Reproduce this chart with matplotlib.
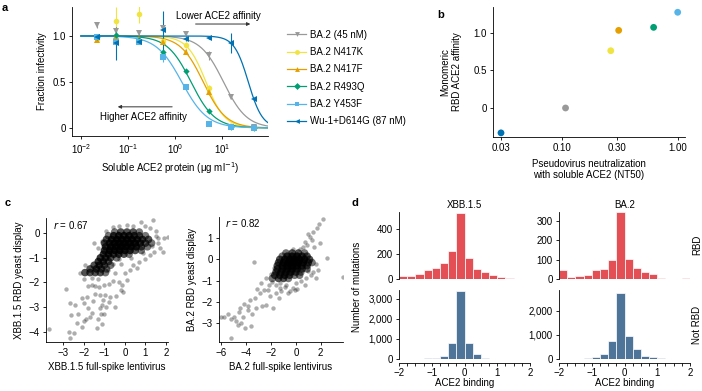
import matplotlib
matplotlib.use('Agg')
import matplotlib.pyplot as plt
import numpy as np
from matplotlib.lines import Line2D
from matplotlib.ticker import NullLocator, FixedLocator

plt.rcParams['font.family'] = ['Liberation Sans', 'DejaVu Sans']
plt.rcParams['font.size'] = 7
plt.rcParams['axes.linewidth'] = 0.6
plt.rcParams['xtick.major.width'] = 0.6
plt.rcParams['ytick.major.width'] = 0.6
plt.rcParams['xtick.major.size'] = 2.5
plt.rcParams['ytick.major.size'] = 2.5
plt.rcParams['xtick.major.pad'] = 2
plt.rcParams['ytick.major.pad'] = 2

W, H = 702, 391

# ---- panel a: neutralization by soluble ACE2 ----
conc = [0.022, 0.056, 0.17, 0.55, 1.7, 5.2, 15.5, 48]
a_names = ['BA.2 (45 nM)', 'BA.2 N417K', 'BA.2 N417F', 'BA.2 R493Q', 'BA.2 Y453F', 'Wu-1+D614G (87 nM)']
a_colors = ['#999999', '#F0E442', '#E69F00', '#009E73', '#56B4E9', '#0072B2']
a_markers = ['v', 'o', '^', 'D', 's', '<']
frac_ba2 = [1.12, 1.05, 1.03, 1.09, 1.02, 0.79, 0.34, 0.015]
frac_n417k = [0.97, 1.16, 1.24, 0.95, 0.90, 0.44, 0.015, 0.0]
frac_n417f = [0.96, 1.00, 0.97, 0.93, 0.83, 0.39, 0.02, 0.005]
frac_r493q = [0.99, 1.01, 0.96, 0.83, 0.62, 0.19, 0.01, 0.005]
frac_y453f = [0.99, 0.94, 0.93, 0.77, 0.45, 0.04, 0.01, 0.005]
frac_wu1 = [0.985, 0.92, 0.93, 1.06, 0.97, 0.975, 0.92, 0.31]
err_ba2 = [0.03, 0.03, 0.02, 0.03, 0.03, 0.05, 0.02, 0.01]
err_n417k = [0.02, 0.16, 0.10, 0.03, 0.03, 0.03, 0.01, 0.01]
err_n417f = [0.02, 0.02, 0.02, 0.03, 0.03, 0.03, 0.01, 0.01]
err_r493q = [0.02, 0.02, 0.02, 0.03, 0.02, 0.02, 0.01, 0.01]
err_y453f = [0.02, 0.03, 0.02, 0.05, 0.02, 0.01, 0.01, 0.01]
err_wu1 = [0.02, 0.18, 0.02, 0.21, 0.02, 0.01, 0.11, 0.02]
ic50 = [10.8, 4.57, 4.0, 2.2, 1.4, 36.4]
hill = [1.76, 2.17, 1.8, 1.73, 1.6, 2.9]

# ---- panel b ----
b_colors = ['#0072B2', '#999999', '#F0E442', '#E69F00', '#009E73', '#56B4E9']
nt50 = [0.030, 0.108, 0.265, 0.31, 0.62, 1.0]
affinity = [-0.33, 0.0, 0.76, 1.03, 1.07, 1.27]

# ---- panel c: XBB.1.5 scatter (sparse points, then dense core with overlap counts) ----
xbb_sparse = [(-3.69, -3.9), (-2.89, -2.25), (-2.68, -2.85), (-2.63, -3.32), (-2.72, -4.0), (-2.68, -4.27),
              (-2.49, -4.07), (-2.33, -3.63), (-2.11, -3.8), (-2.0, -3.55), (-2.11, -2.64), (-2.0, -2.85),
              (-1.79, -3.05), (-1.85, -2.6), (-1.71, -3.39), (-1.6, -3.25), (-1.38, -3.84), (-1.3, -3.5),
              (-1.15, -3.3), (-1.1, -2.9), (-1.05, -2.7), (-1.2, -2.5), (-0.95, -2.5), (-0.73, -2.58),
              (-0.49, -2.98), (-0.45, -2.55), (-0.9, -3.0), (-1.25, -2.2), (-1.6, -2.1), (-1.8, -2.15),
              (-1.45, -2.15), (-1.0, -2.1), (-0.8, -2.05), (-0.6, -1.95), (-0.3, -2.0), (-0.2, -2.3),
              (-0.08, -2.37), (0.1, -1.9), (0.4, -1.3), (0.7, -1.15), (0.6, -1.4), (0.25, -1.5), (0.0, -1.6),
              (-0.2, -1.25), (-0.5, -1.6), (-1.5, -0.38), (-1.3, -0.6), (-1.1, -0.3), (-0.9, 0.1), (-0.6, 0.25),
              (-0.3, 0.3), (0.1, 0.35), (0.4, 0.3), (0.8, 0.45), (1.0, 0.3), (1.38, 0.54), (1.2, 0.2),
              (1.5, -0.1), (1.6, -0.4), (1.7, -0.6), (1.85, -0.75), (1.9, -0.2), (2.1, -0.15), (1.4, -0.75),
              (1.2, -0.9), (1.0, -1.05), (1.3, -0.5), (1.6, -0.2), (-1.95, -1.3), (-2.2, -1.6), (-1.6, -1.8),
              (-1.3, -1.85), (-2.0, -1.85), (-0.85, -1.5), (-0.6, -1.25), (-0.3, -1.05), (0.3, -1.0),
              (0.9, -0.8), (1.5, 0.1), (-1.2, -3.05), (-1.0, -3.3), (-0.8, -2.8), (-2.3, -3.3), (-2.45, -2.9),
              (-1.9, -3.5), (-1.55, -2.75), (-1.45, -2.45), (-0.15, -2.1), (-1.1, -3.7)]
xbb_core = [(-0.5, 0.05, 1), (-0.2, 0.05, 2), (0.1, 0.05, 2), (0.4, 0.05, 2), (0.7, 0.05, 1),
            (-0.8, -0.1, 1), (-0.55, -0.1, 3), (-0.3, -0.1, 4), (-0.05, -0.1, 4), (0.2, -0.1, 4), (0.45, -0.1, 3),
            (0.7, -0.1, 2), (1.0, -0.1, 1),
            (-0.9, -0.25, 2), (-0.65, -0.25, 4), (-0.4, -0.25, 6), (-0.15, -0.25, 6), (0.1, -0.25, 6),
            (0.35, -0.25, 5), (0.6, -0.25, 4), (0.85, -0.25, 3), (1.15, -0.25, 2),
            (-1.0, -0.4, 2), (-0.75, -0.4, 4), (-0.5, -0.4, 6), (-0.25, -0.4, 7), (0.0, -0.4, 7), (0.25, -0.4, 6),
            (0.5, -0.4, 5), (0.75, -0.4, 3), (1.0, -0.4, 2), (1.3, -0.4, 1),
            (-0.95, -0.55, 3), (-0.7, -0.55, 5), (-0.45, -0.55, 6), (-0.2, -0.55, 7), (0.05, -0.55, 6),
            (0.3, -0.55, 5), (0.55, -0.55, 4), (0.8, -0.55, 2), (1.1, -0.55, 1),
            (-1.0, -0.7, 3), (-0.75, -0.7, 5), (-0.5, -0.7, 5), (-0.25, -0.7, 5), (0.0, -0.7, 4), (0.25, -0.7, 3),
            (0.5, -0.7, 2), (0.8, -0.7, 1),
            (-1.05, -0.85, 3), (-0.8, -0.85, 4), (-0.55, -0.85, 3), (-0.3, -0.85, 3), (-0.05, -0.85, 2),
            (0.2, -0.85, 1),
            (-1.2, -1.0, 3), (-0.95, -1.0, 3), (-0.7, -1.0, 2), (-0.4, -1.0, 1),
            (-1.3, -1.15, 3), (-1.05, -1.15, 3), (-0.8, -1.15, 2),
            (-1.5, -1.3, 2), (-1.25, -1.3, 3), (-1.0, -1.3, 2), (-0.7, -1.3, 1),
            (-1.7, -1.45, 2), (-1.4, -1.45, 3), (-1.15, -1.45, 2), (-0.9, -1.45, 1),
            (-1.95, -1.6, 2), (-1.7, -1.6, 2), (-1.45, -1.6, 2), (-1.2, -1.6, 2), (-0.95, -1.6, 1)]

# ---- panel c: BA.2 scatter ----
ba2_sparse = [(2.2, 1.92), (1.9, 1.69), (1.7, 1.5), (1.4, 1.3), (1.0, 1.2), (1.15, 1.05), (0.75, 0.82),
              (1.3, 0.9), (0.9, 0.67), (0.6, 0.6), (1.95, 0.75), (1.5, 0.6), (0.3, 0.5), (-0.2, 0.5),
              (2.5, 0.05), (3.76, -0.84), (-3.4, -0.11), (1.6, -0.2), (1.8, -0.5), (1.4, -0.6), (1.2, -0.75),
              (1.6, -0.9), (0.8, -0.9), (0.4, -1.0), (0.0, -1.1), (-0.22, -1.36), (-0.1, -1.45), (-0.62, -1.59),
              (-0.5, -1.5), (0.05, -1.4), (-0.9, -1.3), (-1.3, -1.1), (-1.6, -1.2), (-1.9, -1.05), (-2.2, -1.2),
              (-2.6, -1.45), (-2.24, -1.44), (-2.1, -1.75), (-1.84, -2.3), (-2.38, -2.14), (-2.9, -1.6),
              (-3.1, -1.4), (-3.3, -1.8), (-3.7, -1.9), (-3.9, -2.2), (-3.86, -2.38), (-4.2, -2.1), (-4.5, -2.3),
              (-4.6, -2.5), (-4.3, -2.7), (-4.1, -3.23), (-3.6, -3.13), (-4.8, -2.9), (-5.0, -2.7), (-5.2, -2.8),
              (-5.5, -2.6), (-5.8, -2.7), (-6.0, -2.72), (-5.2, -3.7), (-4.7, -3.1), (-4.4, -3.0), (-3.5, -2.6),
              (-3.2, -2.3), (-2.7, -2.2), (-1.6, -1.6), (-1.2, -1.5), (-0.8, -1.2), (-1.4, -1.8), (1.0, -0.55),
              (0.7, -1.2), (-2.0, -0.7), (-1.8, -0.4), (-2.4, -0.9), (-2.8, -1.1), (-1.3, -1.35)]
ba2_core = [(-0.8, 0.3, 1), (-0.3, 0.3, 2), (0.2, 0.3, 2), (0.7, 0.3, 1),
            (-1.1, 0.15, 1), (-0.7, 0.15, 3), (-0.3, 0.15, 4), (0.1, 0.15, 4), (0.5, 0.15, 3), (0.9, 0.15, 2),
            (-1.3, 0.0, 2), (-0.9, 0.0, 4), (-0.5, 0.0, 6), (-0.1, 0.0, 7), (0.3, 0.0, 6), (0.7, 0.0, 4),
            (1.1, 0.0, 2),
            (-1.4, -0.15, 2), (-1.0, -0.15, 4), (-0.6, -0.15, 6), (-0.2, -0.15, 7), (0.2, -0.15, 6),
            (0.6, -0.15, 4), (1.0, -0.15, 2), (1.3, -0.15, 1),
            (-1.5, -0.3, 2), (-1.1, -0.3, 4), (-0.7, -0.3, 5), (-0.3, -0.3, 6), (0.1, -0.3, 5), (0.5, -0.3, 3),
            (0.9, -0.3, 2),
            (-1.5, -0.45, 2), (-1.1, -0.45, 3), (-0.7, -0.45, 4), (-0.3, -0.45, 4), (0.1, -0.45, 3),
            (0.5, -0.45, 2), (0.9, -0.45, 1),
            (-1.6, -0.6, 2), (-1.2, -0.6, 3), (-0.8, -0.6, 3), (-0.4, -0.6, 3), (0.0, -0.6, 2), (0.4, -0.6, 1),
            (-1.7, -0.75, 2), (-1.3, -0.75, 2), (-0.9, -0.75, 3), (-0.5, -0.75, 2), (-0.1, -0.75, 1),
            (0.3, -0.75, 1),
            (-1.9, -0.9, 1), (-1.4, -0.9, 2), (-1.0, -0.9, 2), (-0.6, -0.9, 1)]

# ---- panel d: histograms of ACE2 binding (bins of 0.25 from -2 to 2) ----
bin_centers = np.arange(-1.875, 2.0, 0.25)
xbb_rbd = [29, 24, 40, 75, 93, 133, 224, 533, 168, 80, 59, 32, 19, 11, 5, 4]
xbb_not_rbd = [5, 5, 10, 30, 67, 170, 780, 3400, 780, 240, 67, 25, 10, 5, 3, 2]
ba2_rbd = [47, 12, 15, 24, 47, 52, 96, 345, 103, 56, 35, 25, 8, 3, 3, 8]
ba2_not_rbd = [3, 5, 15, 40, 95, 203, 730, 2710, 935, 406, 135, 68, 40, 13, 8, 5]


def px_axes(fig, left, top, right, bottom):
    return fig.add_axes([left / W, 1 - bottom / H, (right - left) / W, (bottom - top) / H])


def clean(ax):
    ax.spines['top'].set_visible(False)
    ax.spines['right'].set_visible(False)


fig = plt.figure(figsize=(W / 100, H / 100), dpi=100)

# panel a
ax = px_axes(fig, 72, 7, 268, 136)
clean(ax)
xs = np.logspace(-2, np.log10(95), 300)
fracs = [frac_ba2, frac_n417k, frac_n417f, frac_r493q, frac_y453f, frac_wu1]
errs = [err_ba2, err_n417k, err_n417f, err_r493q, err_y453f, err_wu1]
handles = []
for i in range(len(a_names)):
    ax.plot(xs, 1 / (1 + (xs / ic50[i]) ** hill[i]), color=a_colors[i], lw=0.9)
    ms = 3.2 if a_markers[i] == 'D' else 4
    ax.errorbar(conc, fracs[i], yerr=errs[i], fmt=a_markers[i], color=a_colors[i], ms=ms,
                elinewidth=0.8, capsize=1.5, capthick=0.8, mew=0)
    handles.append(Line2D([0], [0], color=a_colors[i], marker=a_markers[i], ms=3.5, lw=0.9, mew=0))
ax.set_xscale('log')
ax.set_xlim(10 ** -2.19, 10 ** 1.98)
ax.set_ylim(-0.087, 1.315)
ax.set_xticks([0.01, 0.1, 1, 10])
ax.xaxis.set_minor_locator(NullLocator())
ax.set_yticks([0, 0.5, 1.0])
ax.set_yticklabels(['0', '0.5', '1.0'])
ax.set_xlabel('Soluble ACE2 protein (μg ml$^{-1}$)', labelpad=3)
ax.set_ylabel('Fraction infectivity', labelpad=4)
ax.annotate('', xy=(46, 1.13), xytext=(2.4, 1.13),
            arrowprops=dict(arrowstyle='-|>', color='#333333', lw=0.7, mutation_scale=5))
ax.text(8.2, 1.22, 'Lower ACE2 affinity', ha='center', va='center')
ax.annotate('', xy=(0.053, 0.23), xytext=(1.0, 0.23),
            arrowprops=dict(arrowstyle='-|>', color='#333333', lw=0.7, mutation_scale=5))
ax.text(0.21, 0.12, 'Higher ACE2 affinity', ha='center', va='center')
fig.legend(handles, a_names, loc='upper left', bbox_to_anchor=(282 / W, 1 - 25 / H), frameon=False,
           borderpad=0, handletextpad=0.4, handlelength=2.0, labelspacing=0.75, fontsize=7)
fig.text(2 / W, 1 - 8 / H, 'a', fontweight='bold', fontsize=8, va='center')

# panel b
ax = px_axes(fig, 493, 7, 685, 137)
clean(ax)
ax.scatter(nt50, affinity, s=24, c=b_colors, linewidths=0, zorder=3)
ax.set_xscale('log')
ax.set_xlim(0.0256, 1.156)
ax.set_ylim(-0.385, 1.34)
ax.set_xticks([0.03, 0.1, 0.3, 1.0])
ax.set_xticklabels(['0.03', '0.10', '0.30', '1.00'])
ax.xaxis.set_minor_locator(NullLocator())
ax.set_yticks([0, 0.5, 1.0])
ax.set_yticklabels(['0', '0.5', '1.0'])
ax.set_xlabel('Pseudovirus neutralization\nwith soluble ACE2 (NT50)', labelpad=4)
ax.set_ylabel('Monomeric\nRBD ACE2 affinity', labelpad=8)
fig.text(437 / W, 1 - 15 / H, 'b', fontweight='bold', fontsize=8, va='center')


# panel c
def draw_scatter(ax, sparse, core):
    sx, sy = zip(*sparse)
    ax.scatter(sx, sy, s=10, color='k', alpha=0.32, linewidths=0)
    cx, cy, cn = zip(*core)
    alphas = 1 - (1 - 0.32) ** (np.array(cn) + 1)
    ax.scatter(cx, cy, s=30, color=[(0, 0, 0, a) for a in alphas], linewidths=0)


ax = px_axes(fig, 46, 218, 168, 342)
clean(ax)
draw_scatter(ax, xbb_sparse, xbb_core)
ax.set_xlim(-3.85, 2.1)
ax.set_ylim(-4.42, 0.62)
ax.set_xticks([-3, -2, -1, 0, 1, 2])
ax.set_yticks([0, -1, -2, -3, -4])
ax.set_xlabel('XBB.1.5 full-spike lentivirus', labelpad=3)
ax.set_ylabel('XBB.1.5 RBD yeast display', labelpad=3)
ax.text(0.06, 0.94, '$r$ = 0.67', transform=ax.transAxes, ha='left', va='center')
fig.text(5 / W, 1 - 203 / H, 'c', fontweight='bold', fontsize=8, va='center')

ax = px_axes(fig, 219, 217, 343, 342)
clean(ax)
draw_scatter(ax, ba2_sparse, ba2_core)
ax.set_xlim(-6.2, 3.8)
ax.set_ylim(-3.9, 2.0)
ax.set_xticks([-6, -4, -2, 0, 2])
ax.set_yticks([1, 0, -1, -2, -3])
ax.set_xlabel('BA.2 full-spike lentivirus', labelpad=3)
ax.set_ylabel('BA.2 RBD yeast display', labelpad=3)
ax.text(0.05, 0.95, '$r$ = 0.82', transform=ax.transAxes, ha='left', va='center')

# panel d
hist_sets = [
    (399, 530, 'XBB.1.5', xbb_rbd, xbb_not_rbd, 540, 3450, [0, 200, 400], [0, 1000, 2000, 3000]),
    (559, 690, 'BA.2', ba2_rbd, ba2_not_rbd, 345, 2850, [0, 100, 200, 300], [0, 1000, 2000]),
]
for left, right, title, rbd, not_rbd, ymax1, ymax2, yt1, yt2 in hist_sets:
    ax1 = px_axes(fig, left, 211.7, right, 279.3)
    clean(ax1)
    ax1.spines['bottom'].set_visible(False)
    ax1.bar(bin_centers, rbd, width=0.25, color='#E34F55', edgecolor='white', linewidth=0.5)
    ax1.set_xlim(-2, 2)
    ax1.set_ylim(0, ymax1)
    ax1.set_xticks([])
    ax1.set_yticks(yt1)
    ax1.set_title(title, fontsize=7, pad=3)

    ax2 = px_axes(fig, left, 290, right, 359)
    clean(ax2)
    ax2.spines['bottom'].set_position(('outward', 3))
    ax2.bar(bin_centers, not_rbd, width=0.25, color='#4E7599', edgecolor='white', linewidth=0.5)
    ax2.set_xlim(-2, 2)
    ax2.set_ylim(0, ymax2)
    ax2.set_xticks([-2, -1, 0, 1, 2])
    ax2.xaxis.set_minor_locator(FixedLocator(np.arange(-2, 2.01, 0.25)))
    ax2.tick_params(axis='x', which='minor', length=2.5, width=0.6)
    ax2.tick_params(axis='x', which='major', pad=1)
    ax2.set_yticks(yt2)
    ax2.set_yticklabels([f'{v:,}' for v in yt2])
    ax2.set_xlabel('ACE2 binding', labelpad=0)

fig.text(357 / W, 1 - 287 / H, 'Number of mutations', rotation=90, ha='center', va='center')
fig.text(697 / W, 1 - 245 / H, 'RBD', rotation=90, ha='center', va='center')
fig.text(697 / W, 1 - 325 / H, 'Not RBD', rotation=90, ha='center', va='center')
fig.text(352 / W, 1 - 203 / H, 'd', fontweight='bold', fontsize=8, va='center')

fig.savefig('out.png', dpi=100)
